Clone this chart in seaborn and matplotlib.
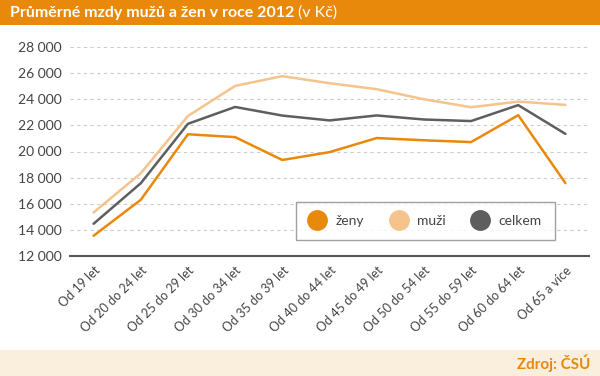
import numpy as np
import pandas as pd
import matplotlib.pyplot as plt
import seaborn as sns
from matplotlib.lines import Line2D
from matplotlib.patches import Rectangle

# data
skupiny = ["Od 19 let", "Od 20 do 24 let", "Od 25 do 29 let", "Od 30 do 34 let",
           "Od 35 do 39 let", "Od 40 do 44 let", "Od 45 do 49 let", "Od 50 do 54 let",
           "Od 55 do 59 let", "Od 60 do 64 let", "Od 65 a více"]
zeny = [13550, 16300, 21320, 21100, 19350, 19950, 21030, 20860, 20720, 22780, 17580]
muzi = [15330, 18330, 22720, 25020, 25770, 25230, 24770, 24000, 23390, 23820, 23570]
celkem = [14470, 17570, 22120, 23410, 22750, 22380, 22760, 22450, 22330, 23550, 21350]
serie = ["ženy", "muži", "celkem"]
barvy = ["#E8890C", "#F4C48C", "#5E5E5E"]

df = pd.DataFrame({"skupina": skupiny * 3,
                   "x": list(range(len(skupiny))) * 3,
                   "mzda": zeny + muzi + celkem,
                   "serie": np.repeat(serie, len(skupiny))})

sns.set_theme(style="white")
plt.rcParams["font.family"] = ["Lato", "DejaVu Sans"]

fig = plt.figure(figsize=(6, 3.76), dpi=100)
ax = fig.add_axes([70 / 600, 1 - 256 / 376, 519 / 600, 209 / 376])

sns.lineplot(data=df, x="x", y="mzda", hue="serie", hue_order=serie,
             palette=barvy, linewidth=1.8, ax=ax, legend=False)

ax.set_xlim(-0.5, 10.5)
ax.set_ylim(12000, 28000)
ax.set_yticks(range(12000, 28001, 2000))
ax.set_yticklabels([f"{v:,}".replace(",", " ") for v in range(12000, 28001, 2000)],
                   fontsize=10, color="#444444")
ax.set_xticks(range(len(skupiny)))
ax.set_xticklabels(skupiny, rotation=45, ha="right", rotation_mode="anchor",
                   fontsize=9, color="#444444")
ax.tick_params(axis="both", length=0, pad=6)
ax.set_xlabel("")
ax.set_ylabel("")
for s in ["top", "right", "left"]:
    ax.spines[s].set_visible(False)
ax.spines["bottom"].set_color("#555555")
ax.spines["bottom"].set_linewidth(1.5)
ax.yaxis.grid(True, linestyle=(0, (3, 3)), color="#CCCCCC", linewidth=0.8)
ax.set_axisbelow(True)

handles = [Line2D([], [], marker="o", linestyle="", markersize=14,
                  markerfacecolor=c, markeredgecolor=c) for c in barvy]
leg = ax.legend(handles, serie, loc="upper left", bbox_to_anchor=(219 / 519, 1 - 148 / 209),
                ncol=3, frameon=True, fancybox=False, fontsize=10, labelcolor="#444444",
                handletextpad=0.7, columnspacing=1.9, borderpad=0.95, handlelength=1.2)
leg.get_frame().set_edgecolor("#888888")
leg.get_frame().set_linewidth(1)

# title band and source band
fig.patches.append(Rectangle((0, 1 - 25 / 376), 1, 25 / 376, transform=fig.transFigure,
                             facecolor="#E8890C", edgecolor="none", zorder=0))
fig.patches.append(Rectangle((0, 0), 1, 26 / 376, transform=fig.transFigure,
                             facecolor="#FAEEDD", edgecolor="none", zorder=0))
t = fig.text(10 / 600, 1 - 13 / 376, "Průměrné mzdy mužů a žen v roce 2012", color="white",
             fontsize=11.5, fontweight="bold", va="center")
fig.canvas.draw()
bb = t.get_window_extent()
fig.text(bb.x1 / 600 + 4 / 600, 1 - 13 / 376, "(v Kč)", color="white", fontsize=11.5,
         va="center")
fig.text(590 / 600, 13 / 376, "Zdroj: ČSÚ", color="#E8890C", fontsize=11,
         fontweight="bold", va="center", ha="right")

fig.savefig("out.png", dpi=100)
